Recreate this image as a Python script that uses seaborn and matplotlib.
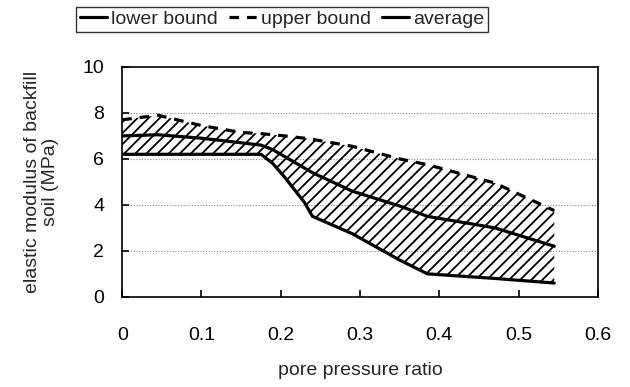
import matplotlib
matplotlib.use("Agg")
import matplotlib.pyplot as plt
import seaborn as sns
import numpy as np
import pandas as pd

# pore pressure ratio sample points (shared by all series)
ratio = [0.0, 0.045, 0.10, 0.15, 0.175, 0.19, 0.205, 0.23, 0.24, 0.29, 0.35, 0.385, 0.47, 0.545]
lower_bound = [6.2, 6.2, 6.2, 6.2, 6.2, 5.8, 5.2, 4.1, 3.5, 2.75, 1.6, 1.0, 0.8, 0.6]
upper_bound = [7.7, 7.9, 7.45, 7.15, 7.1, 7.05, 7.0, 6.9, 6.85, 6.55, 6.0, 5.75, 4.95, 3.75]
average = [7.0, 7.05, 6.9, 6.7, 6.6, 6.4, 6.1, 5.6, 5.4, 4.6, 3.95, 3.5, 3.0, 2.2]

x_ticks = [0, 0.1, 0.2, 0.3, 0.4, 0.5, 0.6]
x_ticklabels = ["0", "0.1", "0.2", "0.3", "0.4", "0.5", "0.6"]
y_ticks = [0, 2, 4, 6, 8, 10]

sns.set_theme(style="white")
plt.rcParams['font.family'] = ['Liberation Sans', 'DejaVu Sans']
plt.rcParams['hatch.linewidth'] = 1.3

df = pd.DataFrame({"ratio": ratio, "lower bound": lower_bound,
                   "upper bound": upper_bound, "average": average})

fig = plt.figure(figsize=(6.3, 3.87), dpi=100)
ax = fig.add_axes([0.194, 0.233, 0.755, 0.594])

ax.fill_between(df["ratio"], df["lower bound"], df["upper bound"],
                facecolor="none", edgecolor="black", hatch="///", linewidth=0)

sns.lineplot(data=df, x="ratio", y="lower bound", ax=ax, color="black", lw=2.3,
             label="lower bound")
sns.lineplot(data=df, x="ratio", y="upper bound", ax=ax, color="black", lw=2.3,
             linestyle=(0, (3, 2.5)), label="upper bound")
sns.lineplot(data=df, x="ratio", y="average", ax=ax, color="black", lw=2.3,
             label="average")

ax.set_xlim(0, 0.6)
ax.set_ylim(0, 10)
ax.set_xticks(x_ticks)
ax.set_xticklabels(x_ticklabels)
ax.set_yticks(y_ticks)
for yv in [2, 4, 6, 8]:
    ax.axhline(yv, color="#888888", lw=0.8, ls=(0, (1, 1.5)), zorder=0)

for s in ax.spines.values():
    s.set_color("black")
    s.set_linewidth(1.2)
ax.tick_params(axis="both", direction="in", length=5, width=1.2, colors="black",
               labelsize=14, bottom=True, left=True)
ax.tick_params(axis="x", pad=22)
ax.tick_params(axis="y", pad=13)

ax.set_xlabel("pore pressure ratio", fontsize=14, labelpad=13)
ax.set_ylabel("elastic modulus of backfill\nsoil (MPa)", fontsize=14, labelpad=17,
              linespacing=1.1)

leg = ax.legend(loc="center", ncol=3, frameon=True, fontsize=14,
                handlelength=1.4, handletextpad=0.2, columnspacing=0.6,
                borderpad=0.2, borderaxespad=0, fancybox=False)
leg.set_bbox_to_anchor((0.448, 0.95), transform=fig.transFigure)
leg.get_frame().set_edgecolor("black")
leg.get_frame().set_linewidth(1.0)

fig.savefig("out.png", dpi=100)
